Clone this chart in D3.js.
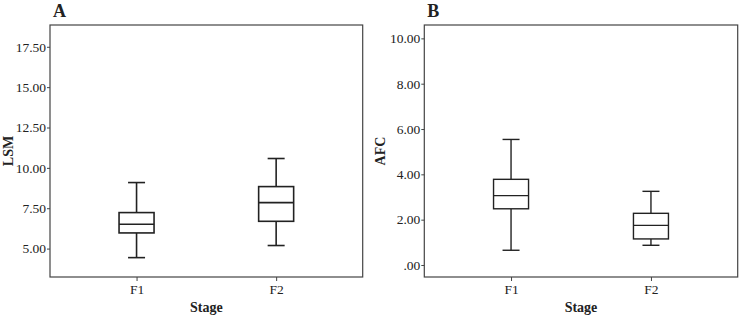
<!DOCTYPE html>
<html><head><meta charset="utf-8">
<script src="https://cdn.jsdelivr.net/npm/d3@7"></script>
<style>body{margin:0;background:#fff}svg{display:block}text{font-family:"Liberation Serif","Times New Roman",serif;fill:#222}</style>
</head><body><svg id="c" width="740" height="317"></svg>
<script>
const categories = ["F1", "F2"];
// [whiskerLow, q1, median, q3, whiskerHigh]
const lsmStats = [[4.44, 5.97, 6.51, 7.23, 9.09], [5.19, 6.69, 7.85, 8.84, 10.58]];
const afcStats = [[0.65, 2.48, 3.06, 3.78, 5.54], [0.87, 1.15, 1.75, 2.28, 3.25]];
const lsmTicks = [5, 7.5, 10, 12.5, 15, 17.5];
const afcTicks = [0, 2, 4, 6, 8, 10];
const panels = [
  {letter: "A", ylabel: "LSM", stats: lsmStats, ticks: lsmTicks, domain: [3.24, 18.85],
   fmt: d => d.toFixed(2), x0: 50, x1: 362.7, lw: 1.6, mw: 1.6, lx: 37},
  {letter: "B", ylabel: "AFC", stats: afcStats, ticks: afcTicks, domain: [-0.53, 10.59],
   fmt: d => d === 0 ? ".00" : d.toFixed(2), x0: 424.3, x1: 737.7, lw: 1.4, mw: 1.1, lx: 39}
];
const svg = d3.select("#c");
const plotTop = 25, plotBottom = 277;
panels.forEach(p => {
  const g = svg.append("g");
  const y = d3.scaleLinear().domain(p.domain).range([plotBottom, plotTop]);
  const x = d3.scalePoint().domain(categories).range([p.x0, p.x1]).padding(0.62);
  // frame
  g.append("rect").attr("x", p.x0).attr("y", plotTop).attr("width", p.x1 - p.x0).attr("height", plotBottom - plotTop)
    .attr("fill", "none").attr("stroke", "#444").attr("stroke-width", 1.2);
  // y axis
  const ya = g.append("g").attr("transform", `translate(${p.x0},0)`)
    .call(d3.axisLeft(y).tickValues(p.ticks).tickFormat(p.fmt).tickSize(3).tickPadding(1));
  ya.select(".domain").remove();
  ya.selectAll("line").attr("stroke", "#444");
  ya.selectAll("text").style("font-size", "13.5px").style("font-family", "Liberation Serif").attr("fill", "#222");
  // x axis
  const xa = g.append("g").attr("transform", `translate(0,${plotBottom})`)
    .call(d3.axisBottom(x).tickSize(4).tickPadding(3));
  xa.select(".domain").remove();
  xa.selectAll("line").attr("stroke", "#444");
  xa.selectAll("text").style("font-size", "13.5px").style("font-family", "Liberation Serif").attr("fill", "#222");
  // boxes
  const bw = 35, cw = 17;
  p.stats.forEach((s, i) => {
    const cx = x(categories[i]);
    const bg = g.append("g").attr("stroke", "#222").attr("stroke-width", p.lw).attr("fill", "none");
    bg.append("line").attr("x1", cx).attr("x2", cx).attr("y1", y(s[0])).attr("y2", y(s[1]));
    bg.append("line").attr("x1", cx).attr("x2", cx).attr("y1", y(s[3])).attr("y2", y(s[4]));
    bg.append("line").attr("x1", cx - cw / 2).attr("x2", cx + cw / 2).attr("y1", y(s[0])).attr("y2", y(s[0]));
    bg.append("line").attr("x1", cx - cw / 2).attr("x2", cx + cw / 2).attr("y1", y(s[4])).attr("y2", y(s[4]));
    bg.append("rect").attr("x", cx - bw / 2).attr("y", y(s[3])).attr("width", bw).attr("height", y(s[1]) - y(s[3])).attr("fill", "#fff");
    bg.append("line").attr("x1", cx - bw / 2).attr("x2", cx + bw / 2).attr("y1", y(s[2])).attr("y2", y(s[2])).attr("stroke-width", p.mw);
  });
  // labels
  g.append("text").attr("x", p.x0 + 3).attr("y", 17).text(p.letter)
    .style("font-size", "18px").style("font-weight", "bold").attr("fill", "#111");
  g.append("text").attr("x", (p.x0 + p.x1) / 2).attr("y", 311.5).attr("text-anchor", "middle").text("Stage")
    .style("font-size", "14px").style("font-weight", "bold");
  g.append("text").attr("transform", `translate(${p.x0 - p.lx},${(plotTop + plotBottom) / 2}) rotate(-90)`)
    .attr("text-anchor", "middle").text(p.ylabel).style("font-size", "14px").style("font-weight", "bold");
});
</script></body></html>
